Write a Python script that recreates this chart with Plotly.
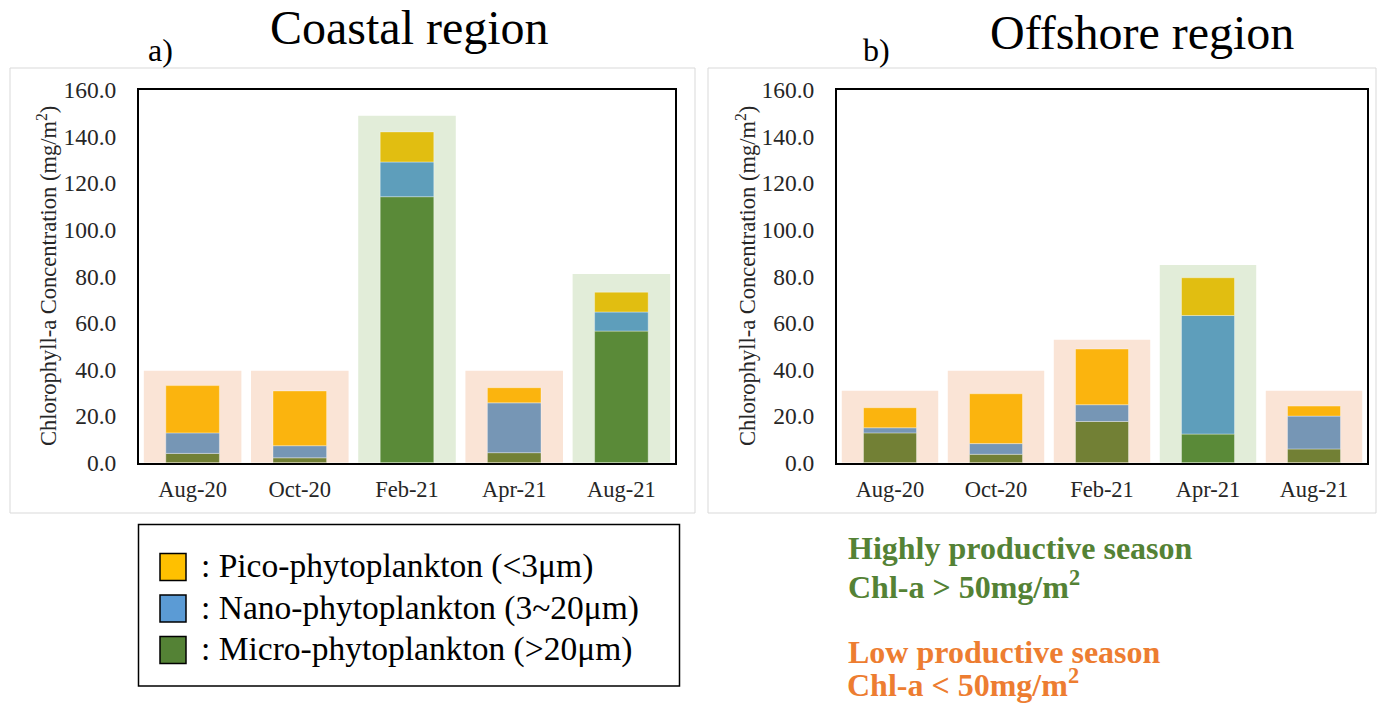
import plotly.graph_objects as go

# ---------------- data ----------------
categories = ["Aug-20", "Oct-20", "Feb-21", "Apr-21", "Aug-21"]

coastal_micro = [4.0, 2.1, 114.2, 4.3, 56.5]
coastal_nano = [8.8, 5.2, 14.9, 21.4, 8.2]
coastal_pico = [20.3, 23.5, 12.9, 6.5, 8.5]
coastal_bg = [39.5, 39.5, 148.9, 39.5, 81.0]

offshore_micro = [12.8, 3.6, 17.7, 12.3, 5.9]
offshore_nano = [2.2, 4.6, 7.2, 50.9, 14.1]
offshore_pico = [8.6, 21.4, 23.9, 16.2, 4.3]
offshore_bg = [30.9, 39.5, 52.8, 84.9, 30.9]

threshold = 50.0
y_ticks = [0, 20, 40, 60, 80, 100, 120, 140, 160]

legend_labels = [": Pico-phytoplankton (<3\u03bcm)",
                 ": Nano-phytoplankton (3~20\u03bcm)",
                 ": Micro-phytoplankton (>20\u03bcm)"]

# ---------------- styles ----------------
W, H = 1378, 705
FONT = "Liberation Serif, Times New Roman, serif"
BG_LOW, BG_HIGH = "#FAE4D6", "#E2EDD9"
COL = {
    "pico": ("#FBB40E", "#E1BE11"),
    "nano": ("#7696B5", "#5E9EBB"),
    "micro": ("#728035", "#5A8A38"),
}
LEG_COLORS = ["#FFC000", "#5B9BD5", "#548235"]


def px(x):
    return x / W


def py(y):
    return (H - y) / H


fig = go.Figure()


def add_panel(micro, nano, pico, bg, xa, ya):
    totals = [a + b + c for a, b, c in zip(micro, nano, pico)]
    high = [t > threshold for t in totals]
    fig.add_trace(go.Bar(x=categories, y=bg, width=0.91,
                         marker=dict(color=[BG_HIGH if h else BG_LOW for h in high], line=dict(width=0)),
                         xaxis=xa, yaxis=ya, hoverinfo="skip", showlegend=False))
    base_nano = micro
    base_pico = [a + b for a, b in zip(micro, nano)]
    for name, vals, base in (("micro", micro, None), ("nano", nano, base_nano), ("pico", pico, base_pico)):
        cols = [COL[name][1] if h else COL[name][0] for h in high]
        fig.add_trace(go.Bar(x=categories, y=vals, base=base, width=0.5,
                             marker=dict(color=cols, line=dict(width=1, color="rgba(255,255,255,0.35)")),
                             xaxis=xa, yaxis=ya, name=name, showlegend=False))


add_panel(coastal_micro, coastal_nano, coastal_pico, coastal_bg, "x", "y")
add_panel(offshore_micro, offshore_nano, offshore_pico, offshore_bg, "x2", "y2")

ydom = [py(462.7), py(90)]
axis_common = dict(showline=True, linecolor="black", linewidth=2, mirror=True,
                   showgrid=False, zeroline=False, ticks="")
xfont = dict(family=FONT, size=22.5, color="#262626")
yfont = dict(family=FONT, size=23.5, color="#262626")
fig.update_layout(
    width=W, height=H,
    margin=dict(l=0, r=0, t=0, b=0, autoexpand=False),
    paper_bgcolor="white", plot_bgcolor="white",
    barmode="overlay", showlegend=False,
    font=dict(family=FONT, color="black"),
    xaxis=dict(domain=[px(139), px(675)], anchor="y", ticklabelstandoff=5, tickfont=xfont, **axis_common),
    yaxis=dict(domain=ydom, anchor="x", range=[0, 160], tickvals=y_ticks,
               tickformat=".1f", ticklabelstandoff=16, tickfont=yfont, **axis_common),
    xaxis2=dict(domain=[px(837), px(1367)], anchor="y2", ticklabelstandoff=5, tickfont=xfont, **axis_common),
    yaxis2=dict(domain=ydom, anchor="x2", range=[0, 160], tickvals=y_ticks,
                tickformat=".1f", ticklabelstandoff=16, tickfont=yfont, **axis_common),
)

shapes = []
# grey chart-area boxes
for x0, x1 in ((10, 695), (708, 1376)):
    shapes.append(dict(type="rect", xref="paper", yref="paper", x0=px(x0), x1=px(x1),
                       y0=py(513), y1=py(68), line=dict(color="#D9D9D9", width=1), layer="below"))
# legend box
shapes.append(dict(type="rect", xref="paper", yref="paper", x0=px(138.5), x1=px(679.5),
                   y0=py(686), y1=py(524.5), line=dict(color="black", width=1.5)))
ann = []
leg_centers = [567, 608.5, 650]
for c, col, lab in zip(leg_centers, LEG_COLORS, legend_labels):
    shapes.append(dict(type="rect", xref="paper", yref="paper", x0=px(160), x1=px(186),
                       y0=py(c + 13.5), y1=py(c - 13.5), fillcolor=col,
                       line=dict(color="black", width=1.5)))
    ann.append(dict(x=px(199), y=py(c - 1), text=lab, xanchor="left",
                    font=dict(family=FONT, size=33.5, color="black")))

ann += [
    dict(x=px(409), y=py(28), text="Coastal region", xanchor="center",
         font=dict(family=FONT, size=48, color="black")),
    dict(x=px(1142), y=py(33), text="Offshore region", xanchor="center",
         font=dict(family=FONT, size=48, color="black")),
    dict(x=px(146), y=py(50), text="a)", xanchor="left", font=dict(family=FONT, size=32, color="black")),
    dict(x=px(861), y=py(50), text="b)", xanchor="left", font=dict(family=FONT, size=32, color="black")),
    dict(x=px(47), y=py(276), text="Chlorophyll-a Concentration (mg/m<sup>2</sup>)", textangle=-90,
         xanchor="center", font=dict(family=FONT, size=22.5, color="#262626")),
    dict(x=px(746), y=py(276), text="Chlorophyll-a Concentration (mg/m<sup>2</sup>)", textangle=-90,
         xanchor="center", font=dict(family=FONT, size=22.5, color="#262626")),
    dict(x=px(846), y=py(548), text="<b>Highly productive season</b>", xanchor="left",
         font=dict(family=FONT, size=32, color="#548235")),
    dict(x=px(846), y=py(585), text="<b>Chl-a > 50mg/m<sup>2</sup></b>", xanchor="left",
         font=dict(family=FONT, size=32, color="#548235")),
    dict(x=px(846), y=py(652), text="<b>Low productive season</b>", xanchor="left",
         font=dict(family=FONT, size=32, color="#ED7D31")),
    dict(x=px(846), y=py(683), text="<b>Chl-a < 50mg/m<sup>2</sup></b>", xanchor="left", borderpad=0,
         font=dict(family=FONT, size=32, color="#ED7D31")),
]
for a in ann:
    a.setdefault("xref", "paper")
    a.setdefault("yref", "paper")
    a.setdefault("showarrow", False)
    a.setdefault("yanchor", "middle")

fig.update_layout(shapes=shapes, annotations=ann)
fig.write_html("out.html", config={"displayModeBar": False})
